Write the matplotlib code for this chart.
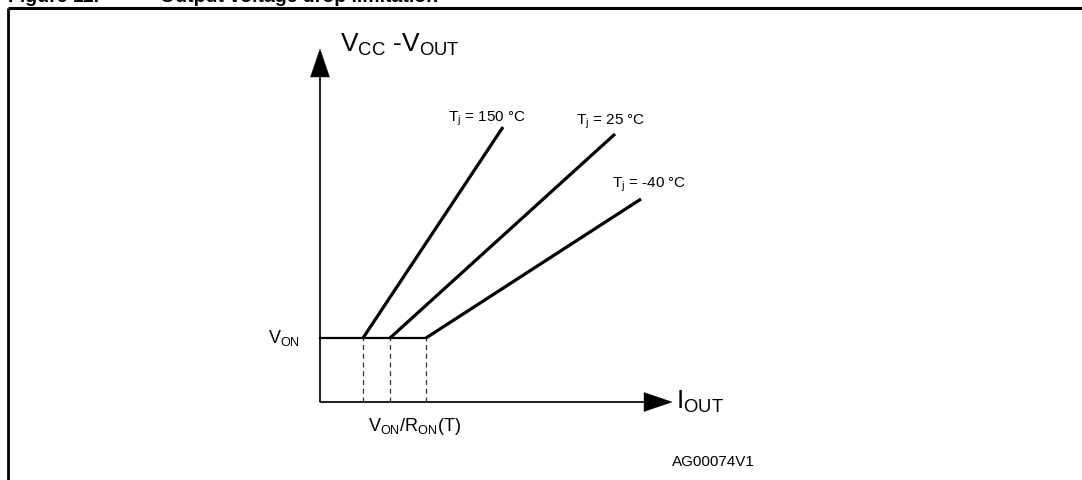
import matplotlib
matplotlib.use("Agg")
import matplotlib.pyplot as plt

# schematic values (arbitrary units, 1 unit = 10 px)
v_on = 6.4
knee_i = [4.3, 7.0, 10.6]          # V_ON / R_ON(T) for each temperature
end_i = [18.3, 29.5, 32.1]
end_v = [27.5, 26.8, 20.3]
temps = ["150", "25", "-40"]
label_pos = [(12.8, 28.1), (25.6, 27.8), (29.2, 21.5)]
y_axis_top = 35.3
x_axis_end = 35.2

plt.rcParams["font.family"] = ["Liberation Sans", "DejaVu Sans"]
plt.rcParams["mathtext.fontset"] = "custom"
plt.rcParams["mathtext.rm"] = "Liberation Sans"
plt.rcParams["mathtext.it"] = "Liberation Sans"

fig = plt.figure(figsize=(10.82, 4.81), dpi=100)
ax = fig.add_axes([0, 0, 1, 1])
ax.set_xlim(-32.0, 76.2)
ax.set_ylim(-7.8, 40.3)
ax.axis("off")

# frame + caption (cut at the top, as in the source page)
ax.plot([-31.2, 76.2], [39.4, 39.4], color="k", lw=2.2, solid_capstyle="butt")
ax.plot([-31.2, -31.2], [-7.8, 39.4], color="k", lw=2.0, solid_capstyle="butt")
ax.text(-31.2, 40.1, "Figure 11.", fontsize=14, fontweight="bold", va="baseline")
ax.text(-16.0, 40.1, "Output voltage drop limitation", fontsize=14,
        fontweight="bold", va="baseline")

# axes arrows
ax.arrow(0, 0, 0, y_axis_top, width=0.15, head_width=1.9, head_length=2.8,
         length_includes_head=True, fc="k", ec="k", lw=0.3)
ax.arrow(0, 0, x_axis_end, 0, width=0.15, head_width=1.9, head_length=2.8,
         length_includes_head=True, fc="k", ec="k", lw=0.3)

# V_ON plateau
ax.plot([0, knee_i[-1]], [v_on, v_on], color="k", lw=1.6)

for ki, ei, ev, t, (tx, ty) in zip(knee_i, end_i, end_v, temps, label_pos):
    ax.plot([ki, ki], [0, v_on], color="#333333", lw=0.9, ls=(0, (4, 3)))
    ax.plot([ki, ei], [v_on, ev], color="k", lw=2.3, solid_capstyle="butt")
    ax.text(tx, ty, "T$_\\mathrm{j}$ = " + t + " °C", fontsize=11, va="baseline")

ax.text(2.0, 35.1, "V$_\\mathrm{CC}$ -V$_\\mathrm{OUT}$", fontsize=19, va="baseline")
ax.text(35.6, -0.6, "I$_\\mathrm{OUT}$", fontsize=19, va="baseline")
ax.text(-2.0, 6.0, "V$_\\mathrm{ON}$", fontsize=13, va="baseline", ha="right")
ax.text(4.8, -2.8, "V$_\\mathrm{ON}$/R$_\\mathrm{ON}$(T)", fontsize=13, va="baseline")
ax.text(35.2, -6.3, "AG00074V1", fontsize=11, va="baseline")

fig.savefig("out.png", dpi=100)
